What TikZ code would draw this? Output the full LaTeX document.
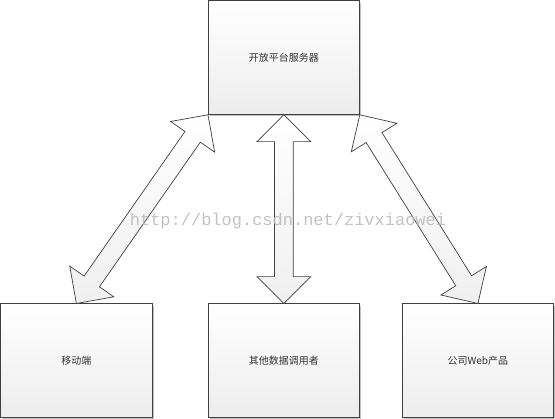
\documentclass[tikz,border=0pt]{standalone}
\usepackage{fontspec}
\setmainfont{Liberation Sans}
\newfontfamily\cjk{Noto Sans CJK SC}
\newfontfamily\wmfont{Liberation Mono}
\usetikzlibrary{shapes.arrows,shadows,calc}
\newcommand\dblarr[2]{\path let \p1=($(#2)-(#1)$), \n1={atan2(\y1,\x1)}, \n2={veclen(\x1,\y1)} in node[darr, minimum height=\n2, rotate=\n1] at ($(#1)!0.5!(#2)$) {};}
\begin{document}
\begin{tikzpicture}[x=1pt,y=-1pt,
 box/.style={draw=black!75, line width=0.8pt, top color=white, bottom color=black!7,
   minimum width=151pt, minimum height=113.5pt, anchor=north west, inner sep=0pt,
   drop shadow={shadow xshift=2pt, shadow yshift=-2pt, fill=black!40, opacity=0.6},
   font=\cjk\fontsize{10}{12}\selectfont, text=black!80},
 darr/.style={double arrow, draw=black!75, line width=0.7pt, inner xsep=0pt, inner ysep=9pt,
   double arrow head extend=17.5pt,
   top color=white, bottom color=black!6, outer sep=0pt},
 wm/.style={font=\wmfont\fontsize{17}{17}\selectfont, text=black!28, opacity=0.85}]
\useasboundingbox (0,0) rectangle (555,419);
\node[box] (srv) at (208,0.5) {开放平台服务器};
\node[box] (mob) at (0.5,303.5) {移动端};
\node[box] (oth) at (208,303.5) {其他数据调用者};
\node[box] (web) at (402,303.5) {公司Web产品};
\dblarr{srv.south west}{mob.north}
\dblarr{srv.south}{oth.north}
\dblarr{srv.south east}{web.north}
\node[wm] (wmk) at (288,221) {http://blog.csdn.net/zivxiaowei};
\end{tikzpicture}
\end{document}
